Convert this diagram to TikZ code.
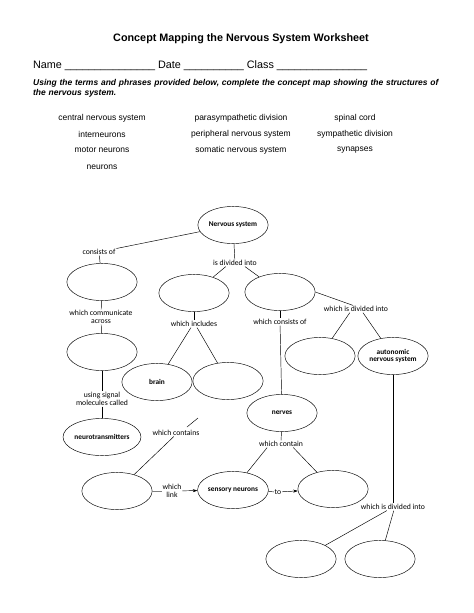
\documentclass[tikz,border=0pt]{standalone}
\usepackage{fontspec}
\setmainfont{Liberation Sans}
\newfontfamily\mapfont{Carlito}
\usetikzlibrary{positioning, arrows.meta, shapes.geometric}

\begin{document}
\begin{tikzpicture}[
    x=0.04555cm, y=-0.04555cm,
    bubble/.style={draw, ellipse, minimum width=3.2cm, minimum height=1.69cm, inner sep=0pt, align=center, font=\mapfont\bfseries\fontsize{9.5}{10}\selectfont, line width=0.6pt},
    phrase/.style={inner sep=1pt, align=center, font=\mapfont\fontsize{10}{10.5}\selectfont},
    term/.style={font=\fontsize{11}{13}\selectfont},
    link/.style={line width=0.6pt},
    arrow/.style={-{Stealth[length=6pt, width=4pt]}, line width=0.6pt}
]
    \useasboundingbox (0,0) rectangle (474,613);

    % header
    \node[font=\bfseries\fontsize{14}{16}\selectfont] (title) at (241,39) {Concept Mapping the Nervous System Worksheet};
    \node[anchor=west, inner sep=0pt, font=\fontsize{14}{16}\selectfont] (name) at (33,66)
        {Name \_\_\_\_\_\_\_\_\_\_\_\_\_\_\_\ Date \_\_\_\_\_\_\_\_\_\_\ Class \_\_\_\_\_\_\_\_\_\_\_\_\_\_\_};
    \node[anchor=north west, inner sep=0pt, text width=19cm, align=left, font=\bfseries\itshape\fontsize{11}{13}\selectfont] (task) at (33,79)
        {Using the terms and phrases provided below, complete the concept map showing the structures of the nervous system.};

    % word bank
    \node[term] (t1) at (102,118) {central nervous system};
    \node[term] (t2) at (102,134) {interneurons};
    \node[term] (t3) at (102,150) {motor neurons};
    \node[term] (t4) at (102,167) {neurons};
    \node[term] (t5) at (241,118) {parasympathetic division};
    \node[term] (t6) at (241,134) {peripheral nervous system};
    \node[term] (t7) at (241,150) {somatic nervous system};
    \node[term] (t8) at (355,118) {spinal cord};
    \node[term] (t9) at (355,134) {sympathetic division};
    \node[term] (t10) at (355,150) {synapses};

    % concept map
    \node[bubble] (ns) at (233,225) {Nervous system};
    \node[phrase] (consists) at (99,252) {consists of};
    \node[bubble] (neur) at (102,282) {};
    \node[phrase] (across) at (101,317) {which communicate\\across};
    \node[bubble] (syn) at (102,352) {};
    \node[phrase] (signal) at (102,399) {using signal\\molecules called};
    \node[bubble] (nt) at (102,437) {neurotransmitters};

    \node[phrase] (divided) at (235,263) {is divided into};
    \node[bubble] (cns) at (194,293) {};
    \node[bubble] (pns) at (280,292) {};
    \node[phrase] (includes) at (194,324) {which includes};
    \node[bubble] (brain) at (157,382) {brain};
    \node[bubble] (cord) at (228,381) {};
    \node[phrase] (consof) at (280,322) {which consists of};
    \node[phrase] (divpns) at (356,309) {which is divided into};
    \node[bubble] (som) at (320,356) {};
    \node[bubble] (auto) at (393,356) {autonomic\\nervous system};
    \node[bubble] (nerves) at (282,413) {nerves};
    \node[phrase] (contain) at (281,444) {which contain};
    \node[phrase] (contains) at (176,433) {which contains};
    \coordinate (cq1) at (187,427);
    \coordinate (cq2) at (198,418);

    \node[bubble] (inter) at (117,491) {};
    \node[phrase] (linkp) at (172,491) {which\\link};
    \node[bubble] (sens) at (233,490) {sensory neurons};
    \node[phrase] (to) at (278,492) {to};
    \node[bubble] (motor) at (333,489) {};
    \node[phrase] (divauto) at (393,507) {which is divided into};
    \node[bubble] (symp) at (301,559) {};
    \node[bubble] (para) at (380,559) {};

    \draw[link] (ns) -- (consists);
    \draw[link] (consists) -- (neur);
    \draw[link] (neur) -- (across);
    \draw[link] (across) -- (syn);
    \draw[link] (syn) -- (signal);
    \draw[link] (signal) -- (nt);
    \draw[link] (ns) -- (divided);
    \draw[link] ([xshift=-12]divided.south) -- (cns);
    \draw[link] ([xshift=13]divided.south) -- (pns);
    \draw[link] (cns) -- (includes);
    \draw[link] ([xshift=-4]includes.south) -- (brain);
    \draw[link] ([xshift=4]includes.south) -- (cord);
    \draw[link] (pns) -- (consof);
    \draw[link] (consof) -- (nerves);
    \draw[link] (pns.east) -- ([xshift=-4]divpns.north);
    \draw[link] ([xshift=-8]divpns.south) -- (som);
    \draw[link] ([xshift=9]divpns.south) -- (auto);
    \draw[link] (nerves) -- (contain);
    \draw[link] ([xshift=-18]contain.south) -- (sens);
    \draw[link] ([xshift=16]contain.south) -- (motor);
    \draw[link] (cq1) -- (cq2);
    \draw[link] ([xshift=-3]contains.south) -- (inter);
    \draw[link, gray] (inter.east) -- (linkp);
    \draw[arrow] (linkp) -- (sens);
    \draw[link] (sens) -- (to);
    \draw[arrow] (to) -- (motor);
    \draw[link] (auto) -- (divauto);
    \draw[link] ([xshift=-8]divauto.south) -- (symp);
    \draw[link] ([xshift=1]divauto.south) -- (para);
\end{tikzpicture}
\end{document}
